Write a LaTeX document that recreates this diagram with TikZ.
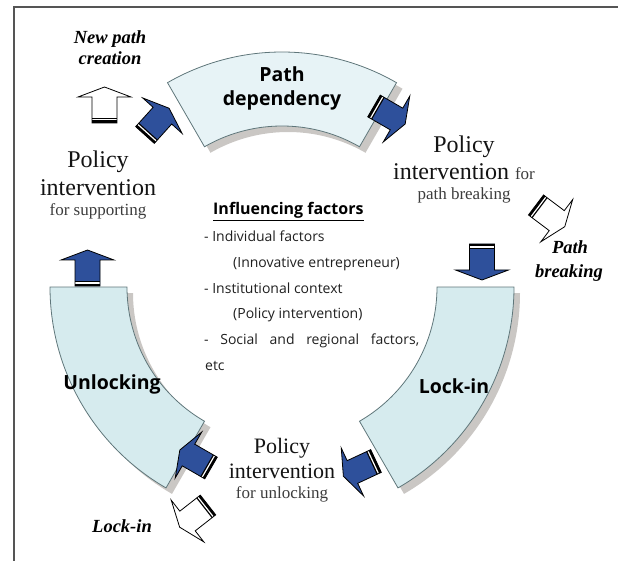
\documentclass[tikz,border=0pt]{standalone}
\usepackage{fontspec}
\setmainfont{Liberation Serif}
\newfontfamily\labelsans{Open Sans}
\definecolor{arrowblue}{RGB}{46,80,155}
\definecolor{segtopfill}{RGB}{231,243,246}
\definecolor{segsidefill}{RGB}{214,235,238}
\definecolor{segline}{RGB}{95,118,122}
\definecolor{shadowgray}{RGB}{202,199,196}
\definecolor{framegray}{RGB}{85,85,85}
\definecolor{softtext}{RGB}{60,60,60}
\newcommand{\ringseg}[7]{%
  \path[#1] plot[domain=#6:#7,samples=60] ({#2+#4*cos(\x)},{#3-#4*sin(\x)})
    -- plot[domain=#7:#6,samples=60] ({#2+#5*cos(\x)},{#3-#5*sin(\x)}) -- cycle;}
\tikzset{
  sarrow/.pic={
    \path[pic actions] (0,-12.5) -- (26,-12.5) -- (26,-26.5) -- (36,0) -- (26,26.5) -- (26,12.5) -- (0,12.5) -- cycle;
    \fill[black] (0,-12.5) rectangle (5,12.5);
    \draw[white, line width=1.2pt] (3.1,-12.5) -- (3.1,12.5);
    \draw[black, line width=0.8pt, line join=miter] (0,-12.5) -- (26,-12.5) -- (26,-26.5) -- (36,0) -- (26,26.5) -- (26,12.5) -- (0,12.5) -- cycle;
  },
  bluearrow/.style={fill=arrowblue},
  whitearrow/.style={fill=white},
  segshadow/.style={fill=shadowgray},
  segtop/.style={fill=segtopfill, draw=segline, line width=0.8pt},
  segside/.style={fill=segsidefill, draw=segline, line width=0.8pt},
  serifbig/.style={font=\fontsize{24}{28}\selectfont, inner sep=0pt, text=black!92},
  serifmid/.style={font=\fontsize{22}{26}\selectfont, inner sep=0pt, text=black!92},
  serifsmall/.style={font=\fontsize{17}{20}\selectfont, inner sep=0pt, text=softtext},
  seglabel/.style={font=\labelsans\bfseries\fontsize{19.5}{24}\selectfont, inner sep=0pt, text=black},
  stage/.style={font=\bfseries\itshape\fontsize{18.5}{22}\selectfont, inner sep=0pt, text=black},
  listtext/.style={font=\labelsans\fontsize{14}{17}\selectfont, inner sep=0pt, text=black!88},
  listhead/.style={font=\labelsans\bfseries\fontsize{16}{19}\selectfont, inner sep=0pt, text=black},
}
\begin{document}
\begin{tikzpicture}[x=1pt, y=-1pt]
\useasboundingbox (0,0) rectangle (618,561);
% frame
\draw[framegray, line width=1.6pt] (14,561) -- (14,7) -- (618,7);
% shadows
\begin{scope}[shift={(6,6)}]
\ringseg{segshadow}{282}{281}{229}{155}{60}{120}
\ringseg{segshadow}{282}{287}{232}{155}{180}{240}
\ringseg{segshadow}{282}{287}{232}{155}{300}{360}
\end{scope}
% ring segments
\ringseg{segtop}{282}{281}{229}{155}{60}{120}
\ringseg{segside}{282}{287}{232}{155}{180}{240}
\ringseg{segside}{282}{287}{232}{155}{300}{360}
% arrows
\pic[whitearrow, rotate=90] (newpath) at (104.5,123) {sarrow};
\pic[bluearrow, rotate=48] (supp) at (145,135) {sarrow};
\pic[bluearrow, rotate=-30] (brk) at (374,106) {sarrow};
\pic[whitearrow, rotate=-37] (pathbr) at (536,205) {sarrow};
\pic[bluearrow, rotate=-90] (tolock) at (482,244) {sarrow};
\pic[bluearrow, rotate=205] (unl) at (376,461) {sarrow};
\pic[bluearrow, rotate=150] (tounl) at (211,468) {sarrow};
\pic[whitearrow, rotate=218] (lockin) at (208,505) {sarrow};
\pic[bluearrow, rotate=90] (up) at (87.5,286) {sarrow};
% segment labels
\node[seglabel, anchor=base] (pd1) at (282,82) {Path};
\node[seglabel, anchor=base] (pd2) at (282,106) {dependency};
\node[seglabel, anchor=base] (unlk) at (112,389) {Unlocking};
\node[seglabel, anchor=base] (lock) at (454,393) {Lock-in};
% stage labels
\node[stage, anchor=base] (np1) at (110,44) {New path};
\node[stage, anchor=base] (np2) at (110,65) {creation};
\node[stage, anchor=base] (pb1) at (570,254) {Path};
\node[stage, anchor=base] (pb2) at (569,277) {breaking};
\node[stage, anchor=base] (li) at (122,532) {Lock-in};
% policy texts
\node[serifbig, anchor=base] (lp1) at (98,168) {Policy};
\node[serifbig, anchor=base] (lp2) at (98,196) {intervention};
\node[serifsmall, anchor=base] (lp3) at (98,216) {for supporting};
\node[serifbig, anchor=base] (rp1) at (464,153) {Policy};
\node[serifbig, anchor=base] (rp2) at (464,180) {intervention {\fontsize{17}{20}\selectfont\color{softtext}for}};
\node[serifsmall, anchor=base] (rp3) at (464,200) {path breaking};
\node[serifmid, anchor=base] (bp1) at (282,453) {Policy};
\node[serifmid, anchor=base] (bp2) at (282,478) {intervention};
\node[serifsmall, anchor=base] (bp3) at (282,498) {for unlocking};
% influencing factors
\node[listhead, anchor=base west] (inf) at (213,215) {\underline{Influencing factors}};
\node[listtext, anchor=base west] (it1) at (204,242) {- Individual factors};
\node[listtext, anchor=base west] (it2) at (233,267) {(Innovative entrepreneur)};
\node[listtext, anchor=base west] (it3) at (204,293) {- Institutional context};
\node[listtext, anchor=base west] (it4) at (233,318) {(Policy intervention)};
\node[listtext, anchor=base west] (it5) at (204,344) {\makebox[215pt][s]{- Social and regional factors,}};
\node[listtext, anchor=base west] (it6) at (205,370) {etc};
\end{tikzpicture}
\end{document}
